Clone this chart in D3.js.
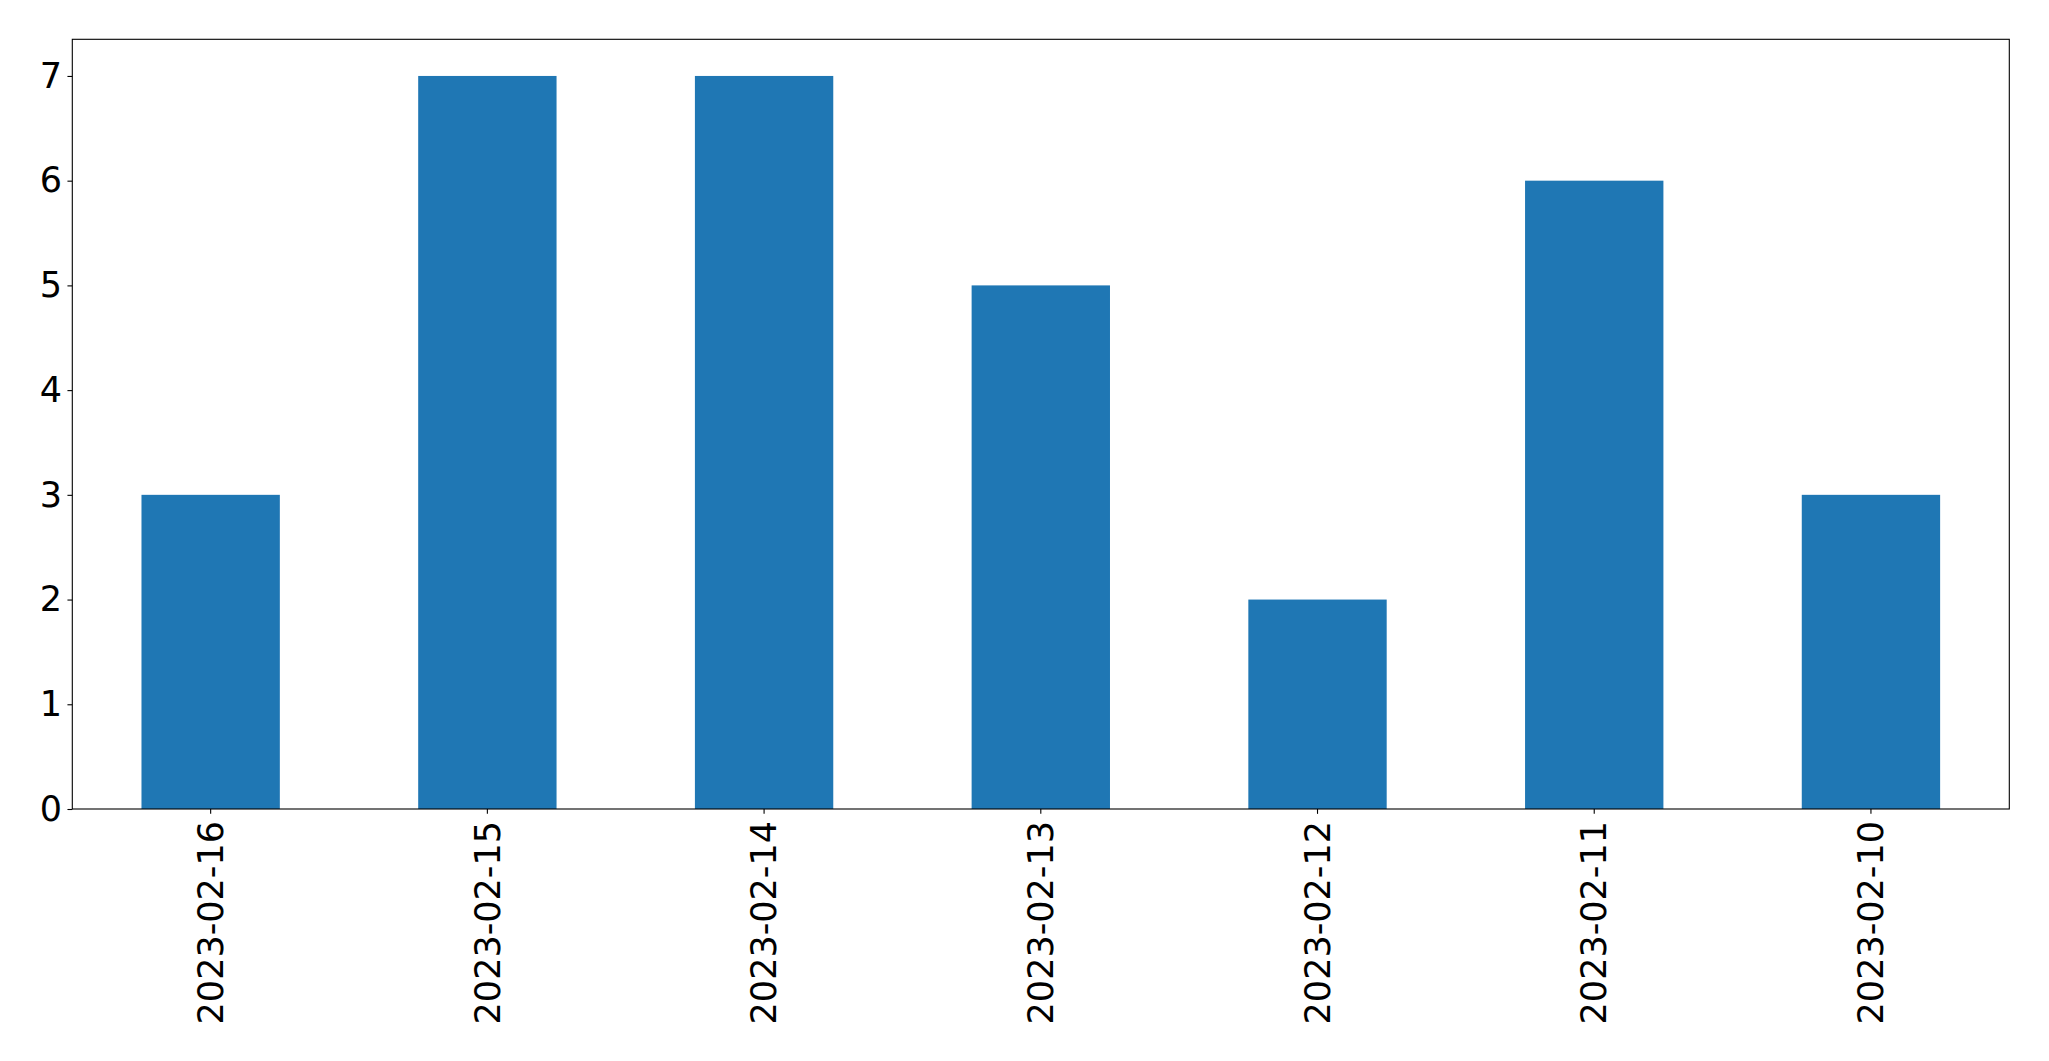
<!DOCTYPE html>
<html><head><meta charset="utf-8">
<script src="https://cdn.jsdelivr.net/npm/d3@7"></script>
<style>body{margin:0;background:#fff}svg{display:block}</style>
</head><body>
<script>
const categories = ["2023-02-16","2023-02-15","2023-02-14","2023-02-13","2023-02-12","2023-02-11","2023-02-10"];
const values = [3,7,7,5,2,6,3];
const yTicks = [0,1,2,3,4,5,6,7];

const W = 2049, H = 1061;
const m = {left:72.3, right:2049-2009.3, top:39.3, bottom:1061-809};
const svg = d3.select("body").append("svg").attr("width",W).attr("height",H);
const x = d3.scaleBand().domain(categories).range([m.left, W-m.right]).paddingInner(0.5).paddingOuter(0.25);
const y = d3.scaleLinear().domain([0, 7*1.05]).range([H-m.bottom, m.top]);

svg.append("g").selectAll("rect").data(values).join("rect")
  .attr("x",(d,i)=>x(categories[i])).attr("width",x.bandwidth())
  .attr("y",d=>y(d)).attr("height",d=>y(0)-y(d)).attr("fill","#1f77b4");

const font = "DejaVu Sans";
const fs = "35px";
const ya = svg.append("g").attr("transform",`translate(${m.left},0)`)
  .call(d3.axisLeft(y).tickValues(yTicks).tickFormat(d3.format("d")).tickSize(4.86).tickPadding(5.5));
ya.select(".domain").remove();
ya.selectAll("text").attr("font-family",font).attr("font-size",fs).attr("fill","#000");
ya.selectAll("line").attr("stroke","#000").attr("stroke-width",1.1);

const xa = svg.append("g").attr("transform",`translate(0,${H-m.bottom})`)
  .call(d3.axisBottom(x).tickSize(4.86).tickPadding(4.86));
xa.select(".domain").remove();
xa.selectAll("line").attr("stroke","#000").attr("stroke-width",1.1);
xa.selectAll("text").attr("font-family",font).attr("font-size",fs).attr("fill","#000")
  .attr("transform","rotate(-90)").attr("text-anchor","end").attr("dy","0.35em")
  .attr("x",-12).attr("y",0);

svg.append("rect").attr("x",m.left).attr("y",m.top).attr("width",W-m.right-m.left).attr("height",H-m.bottom-m.top)
  .attr("fill","none").attr("stroke","#000").attr("stroke-width",1.1);
</script>
</body></html>
